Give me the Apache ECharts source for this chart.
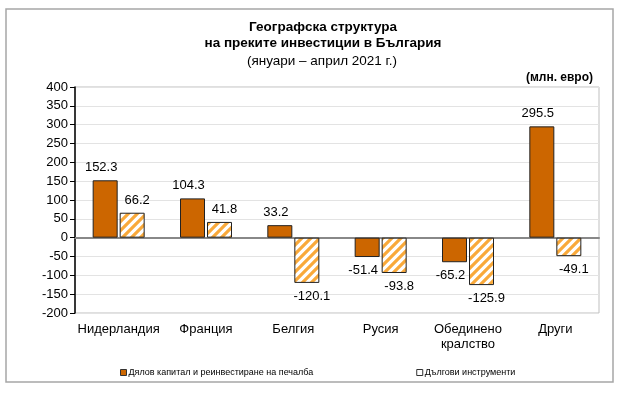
<!DOCTYPE html>
<html><head><meta charset="utf-8">
<script src="https://cdn.jsdelivr.net/npm/echarts@6/dist/echarts.min.js"></script>
<style>html,body{margin:0;padding:0;background:#fff}#c{width:622px;height:395px}</style>
</head><body><div id="c"></div>
<script>
var categories = ['Нидерландия', 'Франция', 'Белгия', 'Русия', 'Обединено\nкралство', 'Други'];
var equity = [152.3, 104.3, 33.2, -51.4, -65.2, 295.5];
var debt = [66.2, 41.8, -120.1, -93.8, -125.9, -49.1];
var seriesNames = ['Дялов капитал и реинвестиране на печалба', 'Дългови инструменти'];
var yTicks = [-200, -150, -100, -50, 0, 50, 100, 150, 200, 250, 300, 350, 400];

function hatch() {
  var c = document.createElement('canvas');
  c.width = 9; c.height = 9;
  var g = c.getContext('2d');
  g.fillStyle = '#fff'; g.fillRect(0, 0, 9, 9);
  g.strokeStyle = '#F9A93A'; g.lineWidth = 3.2;
  g.beginPath();
  g.moveTo(-2, 11); g.lineTo(11, -2);
  g.moveTo(-7, 7); g.lineTo(7, -7);
  g.moveTo(2, 16); g.lineTo(16, 2);
  g.stroke();
  return c;
}
var pat = { image: hatch(), repeat: 'repeat' };
var FONT = 'Liberation Sans, Arial, sans-serif';

function labelFor(v, dx) {
  return v < 0
    ? { position: 'bottom', distance: 7, offset: [dx, 0] }
    : { position: 'top', distance: 6, offset: [dx, 0] };
}

var chart = echarts.init(document.getElementById('c'), null, { renderer: 'canvas' });
chart.setOption({
  animation: false,
  backgroundColor: '#fff',
  graphic: [
    { type: 'rect', shape: { x: 6, y: 9, width: 607, height: 373 }, style: { fill: 'none', stroke: '#a6a6a6', lineWidth: 1.5 }, z: -1 },
    { type: 'text', x: 323, y: 19, style: { text: 'Географска структура\nна преките инвестиции в България', font: 'bold 13.5px ' + FONT, fill: '#000', align: 'center', lineHeight: 16 } },
    { type: 'text', x: 322, y: 54, style: { text: '(януари – април 2021 г.)', font: '13.5px ' + FONT, fill: '#000', align: 'center' } },
    { type: 'text', x: 593, y: 72, style: { text: '(млн. евро)', font: 'bold 12px ' + FONT, fill: '#000', align: 'right' } }
  ],
  legend: {
    data: [
      { name: seriesNames[0], itemStyle: { color: '#CC6600', borderColor: '#333', borderWidth: 1 } },
      { name: seriesNames[1], itemStyle: { color: '#fff', borderColor: '#333', borderWidth: 1 } }
    ],
    left: 115, top: 363, itemWidth: 6, itemHeight: 6, itemGap: 103, icon: 'rect',
    textStyle: { fontSize: 9, fontFamily: FONT, color: '#000', padding: [0, 0, 0, -3] }
  },
  grid: { left: 75, right: 23, top: 87, bottom: 82, show: true, borderColor: '#bfbfbf', borderWidth: 1 },
  xAxis: {
    type: 'category', data: categories,
    axisLine: { onZero: true, lineStyle: { color: '#888', width: 2 } },
    axisTick: { show: false },
    axisLabel: { fontSize: 13, fontFamily: FONT, color: '#000', margin: 9, lineHeight: 15, interval: 0 },
    position: 'bottom'
  },
  yAxis: {
    type: 'value', min: yTicks[0], max: yTicks[yTicks.length - 1], interval: 50,
    axisLine: { show: true, lineStyle: { color: '#000', width: 1.5 } },
    axisTick: { show: true, length: 5, lineStyle: { color: '#000' } },
    axisLabel: { fontSize: 13, fontFamily: FONT, color: '#000', margin: 7 },
    splitLine: { lineStyle: { color: '#e3e3e3' } }
  },
  series: [
    {
      name: seriesNames[0], type: 'bar', barWidth: 25, barGap: '8%',
      data: equity.map(function (v) { return { value: v, label: labelFor(v, -4) }; }),
      itemStyle: { color: '#CC6600', borderColor: '#222', borderWidth: 1 },
      label: { show: true, fontSize: 13, fontFamily: FONT, color: '#000',
        formatter: function (p) { return p.value.toFixed(1); } }
    },
    {
      name: seriesNames[1], type: 'bar', barWidth: 25,
      data: debt.map(function (v) { return { value: v, label: labelFor(v, 5) }; }),
      itemStyle: { color: pat, borderColor: '#222', borderWidth: 1 },
      label: { show: true, fontSize: 13, fontFamily: FONT, color: '#000',
        formatter: function (p) { return p.value.toFixed(1); } }
    }
  ]
});
</script></body></html>
